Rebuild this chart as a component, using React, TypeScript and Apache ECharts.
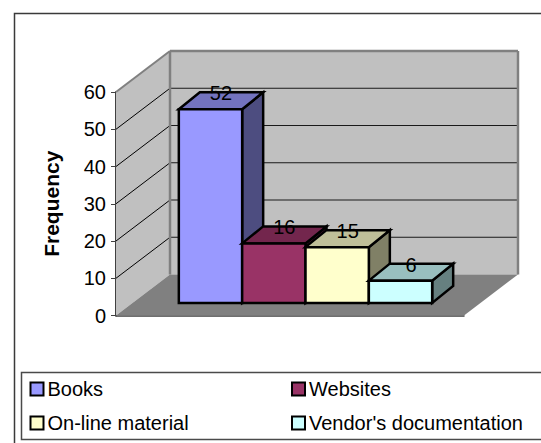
import React, { useEffect, useRef } from "react";
import * as echarts from "echarts";

const FONT = "'Liberation Sans', Arial, sans-serif";

const seriesNames = ["Books", "Websites", "On-line material", "Vendor's documentation"];
const seriesValues = [52, 16, 15, 6];
const frontColors = ["#9999ff", "#993366", "#ffffcc", "#ccffff"];
const topColors = ["#7373bf", "#73264d", "#bfbf99", "#99bfbf"];
const sideColors = ["#4d4d80", "#4d1933", "#808066", "#668080"];
const yTicks = [10, 20, 30, 40, 50];
const categories = [""];

// Oblique projection used for the pseudo-3D box
const WALL_DX = 54;
const WALL_DY = -41;
const BAR_DX = 21;
const BAR_DY = -17;
const BAR_SHIFT_X = 15.5;
const BAR_SHIFT_Y = -12.5;
const BAR_SHARE = 0.182;

function poly(points: number[][], fill: string, stroke: string, lineWidth: number) {
  return {
    type: "polygon",
    shape: { points },
    style: { fill, stroke, lineWidth, lineJoin: "miter" },
  };
}

function line(x1: number, y1: number, x2: number, y2: number, stroke: string, lineWidth: number) {
  return { type: "line", shape: { x1, y1, x2, y2 }, style: { stroke, lineWidth, fill: "none" } };
}

function renderWalls(_params: any, api: any) {
  const [cx, y0] = api.coord([0, 0]);
  const band = api.size([1, 0])[0];
  const yMax = api.coord([0, 60])[1];
  const x0 = cx - band / 2;
  const x1 = cx + band / 2;
  const bx = x0 + WALL_DX;
  const bxR = x1 + WALL_DX;
  const children: any[] = [
    poly([[x0, yMax], [bx, yMax + WALL_DY], [bx, y0 + WALL_DY], [x0, y0]], "#c0c0c0", "none", 0),
    poly([[bx, yMax + WALL_DY], [bxR, yMax + WALL_DY], [bxR, y0 + WALL_DY], [bx, y0 + WALL_DY]], "#c0c0c0", "none", 0),
    poly([[x0, y0], [bx, y0 + WALL_DY], [bxR, y0 + WALL_DY], [x1, y0]], "#808080", "none", 0),
  ];
  yTicks.forEach((t) => {
    const y = api.coord([0, t])[1];
    children.push(line(x0, y, bx, y + WALL_DY, "#000000", 1));
    children.push(line(bx, y + WALL_DY, bxR, y + WALL_DY, "#1a1a1a", 1));
  });
  children.push(line(x0, yMax, bx, yMax + WALL_DY, "#808080", 2));
  children.push(line(bx, yMax + WALL_DY, bxR, yMax + WALL_DY, "#808080", 2.5));
  children.push(line(bx, yMax + WALL_DY, bx, y0 + WALL_DY, "#808080", 2.5));
  children.push(line(bxR, yMax + WALL_DY, bxR, y0 + WALL_DY, "#808080", 2.5));
  return { type: "group", children };
}

function makeBarRenderer(index: number) {
  return (_params: any, api: any) => {
    const value = api.value(1);
    const [cx, base] = api.coord([0, 0]);
    const top = api.coord([0, value])[1] + BAR_SHIFT_Y;
    const bottom = base + BAR_SHIFT_Y;
    const band = api.size([1, 0])[0];
    const w = band * BAR_SHARE;
    const left = cx + BAR_SHIFT_X + (index - 2) * w;
    const right = left + w;
    return {
      type: "group",
      children: [
        poly([[right, top], [right + BAR_DX, top + BAR_DY], [right + BAR_DX, bottom + BAR_DY], [right, bottom]], sideColors[index], "#000000", 2.5),
        poly([[left, top], [left + BAR_DX, top + BAR_DY], [right + BAR_DX, top + BAR_DY], [right, top]], topColors[index], "#000000", 2.5),
        poly([[left, top], [right, top], [right, bottom], [left, bottom]], frontColors[index], "#000000", 2.5),
        {
          type: "text",
          z2: 100,
          style: {
            x: (left + right) / 2 + BAR_DX / 2,
            y: top + BAR_DY + 1,
            text: String(value),
            fill: "#000000",
            font: `20px ${FONT}`,
            align: "center",
            verticalAlign: "middle",
          },
        },
      ],
    };
  };
}

export default function App() {
  const ref = useRef<HTMLDivElement>(null);

  useEffect(() => {
    const chart = echarts.init(ref.current!, null, { renderer: "svg" });
    const legendBase = {
      orient: "vertical" as const,
      top: 379,
      padding: 0,
      itemWidth: 13,
      itemHeight: 13,
      itemGap: 14,
      icon: "rect",
      itemStyle: { borderColor: "#000000", borderWidth: 2 },
      textStyle: { fontFamily: FONT, fontSize: 20, color: "#000000", padding: [0, 0, 0, -1] },
      selectedMode: false,
    };
    chart.setOption({
      animation: false,
      backgroundColor: "#ffffff",
      graphic: [
        {
          type: "polyline",
          z: -1,
          shape: { points: [[14.5, 443], [14.5, 13.5], [541, 13.5]] },
          style: { stroke: "#3a3a3a", lineWidth: 1.5, fill: "none" },
        },
        {
          type: "polyline",
          z: -1,
          shape: { points: [[541, 372.5], [21.5, 372.5], [21.5, 439.5], [541, 439.5]] },
          style: { stroke: "#4a4a4a", lineWidth: 1.5, fill: "none" },
        },
      ],
      legend: [
        { ...legendBase, left: 29.5, data: [seriesNames[0], seriesNames[2]] },
        { ...legendBase, left: 291, data: [seriesNames[1], seriesNames[3]] },
      ],
      grid: { left: 116, top: 92, width: 348, height: 223.5 },
      xAxis: {
        type: "category",
        data: categories,
        axisTick: { show: false },
        axisLabel: { show: false },
        axisLine: { lineStyle: { color: "#404040", width: 1.5 } },
      },
      yAxis: {
        type: "value",
        min: 0,
        max: 60,
        interval: 10,
        name: "Frequency",
        nameLocation: "middle",
        nameGap: 54,
        nameRotate: 90,
        nameTextStyle: { fontFamily: FONT, fontSize: 21, fontWeight: "bold", color: "#000000" },
        splitLine: { show: false },
        axisTick: { show: true, length: 5, lineStyle: { color: "#404040", width: 1 } },
        axisLine: { show: true, lineStyle: { color: "#404040", width: 2 } },
        axisLabel: { fontFamily: FONT, fontSize: 20, color: "#000000", margin: 10 },
      },
      series: [
        {
          type: "custom",
          name: "walls",
          z: 1,
          silent: true,
          clip: false,
          data: [[0, 0]],
          renderItem: renderWalls,
        },
        ...seriesNames.map((name, i) => ({
          type: "custom",
          name,
          z: 2 + i,
          clip: false,
          itemStyle: { color: frontColors[i] },
          encode: { x: 0, y: 1 },
          data: [[0, seriesValues[i]]],
          renderItem: makeBarRenderer(i),
        })),
      ],
    });
    return () => chart.dispose();
  }, []);

  return (
    <div
      ref={ref}
      style={{ position: "absolute", left: 0, top: 0, width: 541, height: 443, overflow: "hidden" }}
    />
  );
}
